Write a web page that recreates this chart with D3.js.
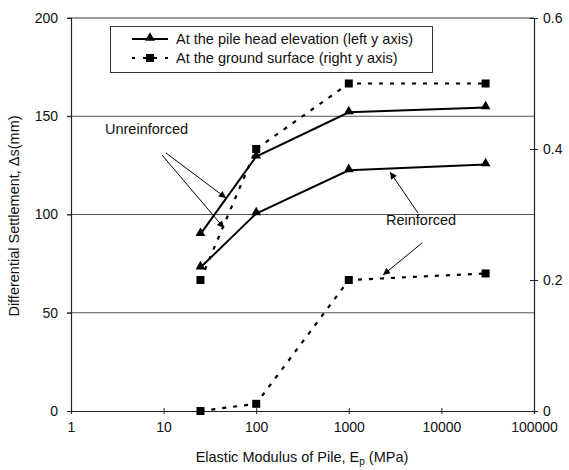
<!DOCTYPE html>
<html>
<head>
<meta charset="utf-8">
<script src="https://cdn.jsdelivr.net/npm/d3@7"></script>
<style>
  body { margin: 0; background: #fff; }
  text { font-family: "Liberation Sans", Arial, sans-serif; fill: #111; }
</style>
</head>
<body>
<div class="chart"></div>
<script>
var w = 569,
  h = 470,
  margin = { top: 18, right: 35, bottom: 59, left: 71 };

// x values (MPa) and series
var modulus = [25, 100, 1000, 30000];
var headUnreinforced = [90, 129.5, 152, 154.5];   // left axis, mm
var headReinforced = [73, 100.5, 122.5, 125.5];   // left axis, mm
var groundUnreinforced = [0.2, 0.4, 0.5, 0.5];    // right axis
var groundReinforced = [0, 0.011, 0.2, 0.21];     // right axis

var xTicks = [1, 10, 100, 1000, 10000, 100000];
var yLeftTicks = [0, 50, 100, 150, 200];
var yRightTicks = [0, 0.2, 0.4, 0.6];

var legendLabels = ['At the pile head elevation (left y axis)', 'At the ground surface (right y axis)'];

var svg = d3.select('.chart')
  .append('svg')
  .attr('width', w)
  .attr('height', h);

var x = d3.scaleLog()
  .domain([1, 100000])
  .range([margin.left, w - margin.right]);

var yL = d3.scaleLinear()
  .domain([0, 200])
  .range([h - margin.bottom, margin.top]);

var yR = d3.scaleLinear()
  .domain([0, 0.6])
  .range([h - margin.bottom, margin.top]);

// gridlines
svg.append('g')
  .selectAll('line')
  .data([50, 100, 150])
  .enter()
  .append('line')
  .attr('x1', margin.left - 4)
  .attr('x2', w - margin.right)
  .attr('y1', function (d) { return yL(d); })
  .attr('y2', function (d) { return yL(d); })
  .attr('stroke', '#555')
  .attr('stroke-width', 1);

// top border
svg.append('line')
  .attr('x1', margin.left - 4)
  .attr('x2', w - margin.right)
  .attr('y1', yL(200))
  .attr('y2', yL(200))
  .attr('stroke', '#333')
  .attr('stroke-width', 1.2);

// left axis
var leftAxis = svg.append('g')
  .attr('transform', 'translate(' + margin.left + ',0)')
  .call(d3.axisLeft(yL).tickValues(yLeftTicks).tickSize(4).tickPadding(9));

// right axis
var rightAxis = svg.append('g')
  .attr('transform', 'translate(' + (w - margin.right) + ',0)')
  .call(d3.axisRight(yR).tickValues(yRightTicks).tickSize(4).tickPadding(5)
    .tickFormat(function (d) { return d === 0 ? '0' : d3.format('.1f')(d); }));
rightAxis.selectAll('.tick line').attr('x1', -4);

// bottom axis
var bottomAxis = svg.append('g')
  .attr('transform', 'translate(0,' + (h - margin.bottom) + ')')
  .call(d3.axisBottom(x).tickValues(xTicks).tickSize(3).tickPadding(8)
    .tickFormat(d3.format('d')));
bottomAxis.selectAll('.tick line').attr('y1', -3);

[leftAxis, rightAxis, bottomAxis].forEach(function (g) {
  g.select('.domain').attr('stroke', '#222').attr('stroke-width', 1.2);
  g.selectAll('.tick line').attr('stroke', '#222');
  g.selectAll('.tick text')
    .attr('font-size', '14px')
    .attr('font-family', '"Liberation Sans", Arial, sans-serif')
    .attr('fill', '#111');
});

// axis titles
svg.append('text')
  .attr('x', 302)
  .attr('y', 462)
  .attr('text-anchor', 'middle')
  .attr('font-size', '14.5px')
  .html('Elastic Modulus of Pile, E<tspan font-size="10px" dy="3">p</tspan><tspan dy="-3"> (MPa)</tspan>');

svg.append('text')
  .attr('transform', 'translate(19,216) rotate(-90)')
  .attr('text-anchor', 'middle')
  .attr('font-size', '14.5px')
  .text('Differential Settlement, \u0394s(mm)');

// lines
var lineL = d3.line()
  .x(function (d, i) { return x(modulus[i]); })
  .y(function (d) { return yL(d); });

var lineR = d3.line()
  .x(function (d, i) { return x(modulus[i]); })
  .y(function (d) { return yR(d); });

var tri = d3.symbol().type(d3.symbolTriangle).size(42);

[headUnreinforced, headReinforced].forEach(function (s) {
  svg.append('path')
    .attr('d', lineL(s))
    .attr('fill', 'none')
    .attr('stroke', '#000')
    .attr('stroke-width', 2);
  svg.append('g').selectAll('path')
    .data(s)
    .enter()
    .append('path')
    .attr('d', tri)
    .attr('transform', function (d, i) { return 'translate(' + x(modulus[i]) + ',' + (yL(d) - 1) + ')'; })
    .attr('fill', '#000');
});

[groundUnreinforced, groundReinforced].forEach(function (s) {
  svg.append('path')
    .attr('d', lineR(s))
    .attr('fill', 'none')
    .attr('stroke', '#000')
    .attr('stroke-width', 2.2)
    .attr('stroke-dasharray', '4,7');
  svg.append('g').selectAll('rect')
    .data(s)
    .enter()
    .append('rect')
    .attr('x', function (d, i) { return x(modulus[i]) - 4; })
    .attr('y', function (d) { return yR(d) - 4; })
    .attr('width', 8)
    .attr('height', 8)
    .attr('fill', '#000');
});

// legend
var legend = svg.append('g');
legend.append('rect')
  .attr('x', 110.5)
  .attr('y', 26.5)
  .attr('width', 322)
  .attr('height', 46)
  .attr('fill', '#fff')
  .attr('stroke', '#333')
  .attr('stroke-width', 1);

legend.append('line')
  .attr('x1', 132).attr('x2', 168)
  .attr('y1', 39).attr('y2', 39)
  .attr('stroke', '#000').attr('stroke-width', 2);
legend.append('path')
  .attr('d', tri)
  .attr('transform', 'translate(150,38)')
  .attr('fill', '#000');

legend.append('line')
  .attr('x1', 132).attr('x2', 170)
  .attr('y1', 58).attr('y2', 58)
  .attr('stroke', '#000').attr('stroke-width', 2.2)
  .attr('stroke-dasharray', '3,8');
legend.append('rect')
  .attr('x', 146).attr('y', 54)
  .attr('width', 8).attr('height', 8)
  .attr('fill', '#000');

legend.selectAll('text')
  .data(legendLabels)
  .enter()
  .append('text')
  .attr('x', 176)
  .attr('y', function (d, i) { return 44 + i * 19; })
  .attr('font-size', '14.5px')
  .text(function (d) { return d; });

// annotations
var defs = svg.append('defs');
defs.append('marker')
  .attr('id', 'arrow')
  .attr('viewBox', '0 0 10 10')
  .attr('refX', 10)
  .attr('refY', 5)
  .attr('markerWidth', 9)
  .attr('markerHeight', 7)
  .attr('orient', 'auto')
  .attr('markerUnits', 'userSpaceOnUse')
  .append('path')
  .attr('d', 'M0,0 L10,5 L0,10 z')
  .attr('fill', '#000');

svg.append('text')
  .attr('x', 105)
  .attr('y', 134)
  .attr('font-size', '14.5px')
  .text('Unreinforced');

svg.append('text')
  .attr('x', 386)
  .attr('y', 225)
  .attr('font-size', '14.5px')
  .text('Reinforced');

var arrows = [
  [166, 153, 226, 198],
  [162, 155, 224, 228],
  [418, 213, 390, 172],
  [422, 243, 383, 275]
];
svg.append('g').selectAll('line')
  .data(arrows)
  .enter()
  .append('line')
  .attr('x1', function (d) { return d[0]; })
  .attr('y1', function (d) { return d[1]; })
  .attr('x2', function (d) { return d[2]; })
  .attr('y2', function (d) { return d[3]; })
  .attr('stroke', '#000')
  .attr('stroke-width', 1)
  .attr('marker-end', 'url(#arrow)');
</script>
</body>
</html>
